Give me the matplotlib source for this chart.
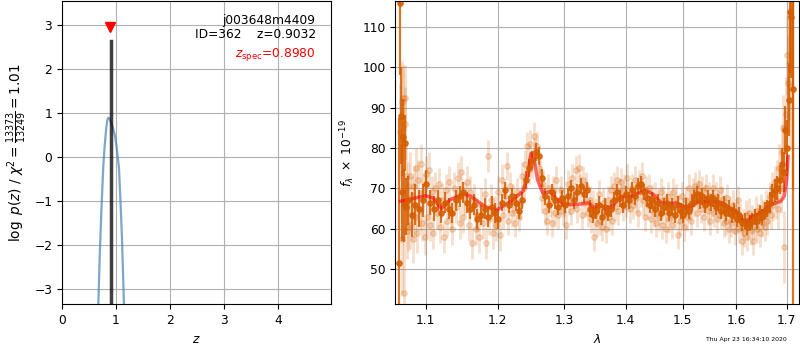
import matplotlib.pyplot as plt
from matplotlib.ticker import FixedLocator, NullLocator, FormatStrFormatter

plt.rcParams['font.size'] = 8.8
plt.rcParams['axes.linewidth'] = 0.8

# redshift probability, log p(z) on the coarse grid
pz_z = [0.64, 0.673, 0.70, 0.73, 0.765, 0.79, 0.815, 0.84, 0.86, 0.88, 0.91,
        0.94, 0.98, 1.01, 1.035, 1.056, 1.08, 1.11, 1.13, 1.148, 1.17]
pz_log = [-4.5, -3.34, -2.2, -1.2, -0.2, 0.25, 0.6, 0.85, 0.9, 0.87, 0.78,
          0.68, 0.5, 0.25, -0.02, -0.25, -0.9, -1.8, -2.6, -3.34, -4.3]

z_best = 0.9032
z_best_logp = 2.65
z_spec = 0.8980
z_spec_mark = 2.95

# binned spectrum
bin_wave = [1.0655, 1.0671, 1.0682, 1.0695, 1.0707, 1.0718, 1.0733, 1.0745,
            1.0765, 1.0815, 1.0865, 1.0915, 1.0965, 1.101, 1.106, 1.111, 1.116, 1.121,
            1.126, 1.131, 1.136, 1.141, 1.146, 1.151, 1.156, 1.161, 1.166, 1.171,
            1.176, 1.181, 1.186, 1.191, 1.196, 1.201, 1.206, 1.211, 1.216, 1.221,
            1.226, 1.231, 1.236, 1.241, 1.246, 1.251, 1.256, 1.261, 1.266, 1.271,
            1.276, 1.281, 1.286, 1.291, 1.296, 1.301, 1.306, 1.311, 1.316, 1.321,
            1.326, 1.331, 1.336, 1.341, 1.346, 1.351, 1.356, 1.361, 1.366, 1.371,
            1.376, 1.381, 1.386, 1.391, 1.396, 1.401, 1.406, 1.411, 1.416, 1.421,
            1.426, 1.431, 1.436, 1.441, 1.446, 1.451, 1.456, 1.461, 1.466, 1.471,
            1.476, 1.481, 1.486, 1.491, 1.496, 1.501, 1.506, 1.511, 1.516, 1.521,
            1.526, 1.531, 1.536, 1.541, 1.546, 1.551, 1.556, 1.561, 1.566, 1.571,
            1.576, 1.581, 1.586, 1.591, 1.596, 1.601, 1.606, 1.611, 1.616, 1.621,
            1.626, 1.631, 1.636, 1.641, 1.646, 1.651, 1.656, 1.661, 1.666, 1.671,
            1.676, 1.681, 1.686, 1.690, 1.694, 1.697, 1.700, 1.704,
            1.7068, 1.7096, 1.7125, 1.7134]
bin_flux = [51.5, 116.0, 88.0, 69.0, 82.6, 65.8, 81.2, 65.5,
            67.0, 63.5, 66.0, 65.0, 67.0, 71.0, 66.5, 65.0, 67.0, 64.0,
            66.5, 65.0, 64.0, 67.0, 68.0, 69.0, 66.5, 65.0, 66.0, 62.5,
            63.5, 65.0, 63.0, 65.5, 64.0, 62.5, 66.5, 69.5, 66.0, 68.0,
            66.5, 64.5, 67.0, 72.0, 75.0, 77.0, 79.0, 78.0, 72.5, 68.0,
            66.0, 69.0, 67.0, 65.5, 67.5, 66.0, 68.0, 70.0, 67.0, 69.0,
            70.5, 68.5, 69.5, 65.0, 63.5, 64.5, 66.0, 63.0, 65.5, 64.0,
            65.0, 67.0, 69.0, 67.5, 66.0, 68.5, 67.0, 69.5, 68.0, 70.5,
            71.0, 69.0, 67.5, 66.0, 67.0, 65.0, 66.5, 64.0, 65.5, 66.5,
            64.0, 65.5, 63.5, 66.0, 64.5, 63.5, 65.5, 64.5, 66.5, 67.5,
            68.5, 67.0, 68.0, 66.0, 67.5, 66.5, 67.5, 65.5, 66.5, 64.5,
            66.0, 64.0, 65.0, 63.5, 64.5, 62.5, 63.5, 61.5, 62.0, 60.5,
            61.5, 62.0, 63.0, 62.0, 64.0, 63.0, 64.5, 65.0, 66.5, 68.5,
            69.5, 70.0, 72.0, 76.0, 74.0, 84.5, 80.0, 92.0,
            113.6, 112.4, 40.0, 94.6]
bin_err = [36.0, 18.0, 12.0, 12.0, 9.5, 9.0, 7.0, 7.0,
           6.0, 5.5, 5.0, 4.5, 4.0, 3.5, 3.0, 3.0, 2.5, 2.5,
           2.5, 2.5, 2.5, 2.5, 2.5, 2.5, 2.5, 2.5, 2.5, 2.5,
           2.5, 2.5, 2.5, 2.5, 2.5, 2.5, 2.2, 2.2, 2.2, 2.2,
           2.2, 2.2, 2.2, 2.2, 2.2, 2.2, 2.2, 2.2, 2.2, 2.2,
           2.2, 2.0, 2.0, 2.0, 2.0, 2.0, 2.0, 2.0, 2.0, 2.0,
           2.0, 2.0, 2.0, 2.0, 2.0, 2.0, 2.0, 2.0, 2.0, 2.0,
           2.0, 2.0, 2.0, 2.0, 2.0, 2.0, 2.0, 2.0, 2.0, 2.0,
           2.0, 2.0, 2.0, 2.0, 2.0, 2.0, 2.0, 2.0, 2.0, 2.0,
           2.0, 2.0, 2.0, 2.0, 2.0, 2.0, 2.0, 2.0, 2.0, 2.0,
           2.0, 2.0, 2.0, 2.0, 2.0, 2.0, 2.0, 2.0, 2.0, 2.0,
           2.0, 2.0, 2.0, 2.0, 2.0, 2.0, 2.0, 2.0, 2.0, 2.0,
           2.0, 2.0, 2.0, 2.0, 2.0, 2.0, 2.2, 2.2, 2.5, 2.5,
           2.8, 3.0, 3.5, 4.0, 5.0, 6.0, 7.0, 9.0,
           15.0, 15.0, 80.0, 25.0]

# unbinned spectrum
raw_wave = [1.0665, 1.0685, 1.0695, 1.0705, 1.0715, 1.0725, 1.0735, 1.0745, 1.0755, 1.0765,
            1.0775, 1.0790, 1.0800, 1.0815, 1.0830, 1.0845, 1.0860, 1.0875, 1.0890, 1.0905,
            1.0925, 1.0940, 1.0955, 1.0970, 1.0990, 1.1005, 1.1025, 1.1045, 1.1065, 1.1085,
            1.1105, 1.113, 1.115, 1.1175, 1.1195, 1.122, 1.1245, 1.127, 1.129, 1.1315,
            1.134, 1.136, 1.1385, 1.141, 1.1435, 1.146, 1.1485, 1.151, 1.1535, 1.156,
            1.1585, 1.161, 1.1635, 1.166, 1.1685, 1.171, 1.1735, 1.176, 1.1785, 1.181,
            1.1835, 1.1855, 1.188, 1.1905, 1.193, 1.1955, 1.198, 1.2005, 1.203, 1.2055,
            1.208, 1.2105, 1.213, 1.2155, 1.218, 1.2205, 1.223, 1.2255, 1.228, 1.2305,
            1.233, 1.2355, 1.238, 1.2405, 1.243, 1.2455, 1.248, 1.2505, 1.253, 1.2555,
            1.258, 1.2605, 1.263, 1.2655, 1.268, 1.2705, 1.273, 1.2755, 1.278, 1.2805,
            1.283, 1.2855, 1.288, 1.2905, 1.293, 1.2955, 1.298, 1.3005, 1.303, 1.3055,
            1.308, 1.3105, 1.313, 1.3155, 1.318, 1.3205, 1.323, 1.3255, 1.328, 1.3305,
            1.333, 1.3355, 1.338, 1.3405, 1.343, 1.3455, 1.348, 1.3505, 1.353, 1.3555,
            1.358, 1.3605, 1.363, 1.3655, 1.368, 1.3705, 1.373, 1.3755, 1.378, 1.3805,
            1.383, 1.3855, 1.388, 1.3905, 1.393, 1.3955, 1.398, 1.4005, 1.403, 1.4055,
            1.408, 1.4105, 1.413, 1.4155, 1.418, 1.4205, 1.423, 1.4255, 1.428, 1.4305,
            1.433, 1.4355, 1.438, 1.4405, 1.443, 1.4455, 1.448, 1.4505, 1.453, 1.4555,
            1.458, 1.4605, 1.463, 1.4655, 1.468, 1.4705, 1.473, 1.4755, 1.478, 1.4805,
            1.483, 1.4855, 1.488, 1.4905, 1.493, 1.4955, 1.498, 1.5005, 1.503, 1.5055,
            1.508, 1.5105, 1.513, 1.5155, 1.518, 1.5205, 1.523, 1.5255, 1.528, 1.5305,
            1.533, 1.5355, 1.538, 1.5405, 1.543, 1.5455, 1.548, 1.5505, 1.553, 1.5555,
            1.558, 1.5605, 1.563, 1.5655, 1.568, 1.5705, 1.573, 1.5755, 1.578, 1.5805,
            1.583, 1.5855, 1.588, 1.5905, 1.593, 1.5955, 1.598, 1.6005, 1.603, 1.6055,
            1.608, 1.6105, 1.613, 1.6155, 1.618, 1.6205, 1.623, 1.6255, 1.628, 1.6305,
            1.633, 1.6355, 1.638, 1.6405, 1.643, 1.6455, 1.648, 1.6505, 1.653, 1.6555,
            1.658, 1.6605, 1.663, 1.6655, 1.668, 1.6705, 1.673, 1.6755, 1.678, 1.6805,
            1.683, 1.6855, 1.688, 1.6905, 1.693, 1.6955, 1.698, 1.700, 1.7025, 1.705,
            1.7075]
raw_flux = [84.0, 91.5, 57.5, 92.5, 44.0, 86.0, 92.5, 73.0, 59.5, 70.5,
            60.5, 73.0, 61.0, 68.0, 57.5, 70.5, 63.0, 75.0, 59.0, 72.0,
            64.5, 76.0, 61.5, 69.0, 58.0, 73.5, 63.0, 74.5, 61.0, 69.0,
            59.0, 70.0, 64.0, 71.0, 60.5, 67.0, 58.0, 69.5, 62.0, 71.5,
            64.0, 60.0, 70.0, 65.5, 72.5, 61.5, 74.0, 63.0, 67.5, 71.5,
            61.0, 69.0, 56.5, 67.0, 60.0, 63.5, 58.0, 66.0, 61.5, 68.5,
            56.5, 78.0, 62.5, 67.0, 59.0, 64.0, 61.0, 69.0, 58.5, 72.0,
            63.5, 68.0, 75.5, 62.0, 70.5, 64.0, 67.5, 61.5, 69.0, 63.0,
            66.0, 73.0, 70.0, 76.0, 80.5, 74.5, 81.0, 76.0, 83.0, 79.0,
            80.5, 75.0, 73.5, 67.5, 71.0, 64.5, 62.0, 70.0, 66.5, 61.5,
            69.5, 64.0, 72.0, 63.5, 67.0, 69.5, 64.5, 66.5, 61.0, 71.0,
            67.0, 64.5, 72.5, 68.0, 74.5, 65.0, 75.0, 70.0, 63.5, 72.0,
            66.5, 70.5, 64.0, 67.0, 62.5, 66.0, 58.0, 64.0, 61.5, 68.5,
            62.0, 60.5, 66.5, 64.0, 60.0, 67.0, 63.0, 69.5, 62.0, 70.5,
            65.5, 72.0, 64.5, 69.0, 71.5, 65.5, 70.0, 66.5, 72.5, 68.0,
            65.0, 70.0, 66.0, 72.0, 67.5, 64.0, 71.0, 69.0, 73.0, 67.0,
            63.0, 69.5, 66.0, 70.0, 62.5, 67.5, 64.0, 68.0, 61.5, 66.5,
            63.0, 69.0, 61.0, 67.0, 64.5, 60.0, 68.0, 62.5, 66.0, 61.0,
            69.0, 63.5, 67.5, 58.5, 65.0, 62.0, 68.0, 64.0, 60.5, 67.0,
            63.0, 70.0, 65.5, 62.0, 69.0, 66.5, 70.5, 64.0, 68.5, 71.0,
            65.0, 69.5, 63.0, 67.5, 70.0, 64.5, 68.0, 62.0, 66.5, 70.0,
            64.0, 68.0, 62.5, 66.0, 69.5, 63.5, 67.0, 61.5, 65.0, 62.0,
            67.5, 60.0, 64.5, 61.5, 66.0, 62.5, 59.5, 64.0, 67.0, 60.0,
            63.0, 57.0, 61.5, 59.0, 63.5, 58.0, 61.0, 64.0, 59.5, 62.5,
            57.0, 61.0, 64.5, 60.0, 63.0, 59.0, 65.0, 61.5, 63.5, 60.5,
            66.0, 62.0, 64.5, 68.0, 63.5, 70.0, 66.0, 71.5, 67.0, 72.0,
            65.0, 75.0, 70.0, 79.0, 85.0, 55.5, 88.5, 103.0, 96.0, 101.0,
            95.0]
raw_err = [12.0, 10.0, 14.0, 8.0, 15.0, 9.0, 8.0, 8.0, 7.0, 6.0,
           6.0, 6.0, 6.0, 5.0, 6.0, 5.0, 5.0, 5.0, 5.0, 5.0,
           5.0, 5.0, 4.5, 4.5, 4.5, 4.5, 4.5, 4.5, 4.0, 4.0,
           4.0, 4.0, 4.0, 4.0, 4.0, 4.0, 4.0, 4.0, 4.0, 4.0,
           4.0, 4.0, 4.0, 4.0, 4.0, 4.0, 4.0, 4.0, 4.0, 4.0,
           4.0, 4.0, 4.0, 4.0, 4.0, 4.0, 4.0, 4.0, 4.0, 4.0,
           4.0, 4.0, 4.0, 4.0, 4.0, 4.0, 4.0, 4.0, 4.0, 4.0,
           3.5, 3.5, 3.5, 3.5, 3.5, 3.5, 3.5, 3.5, 3.5, 3.5,
           3.5, 3.5, 3.5, 3.5, 3.5, 3.5, 3.5, 3.5, 3.5, 3.5,
           3.5, 3.5, 3.5, 3.5, 3.5, 3.5, 3.5, 3.5, 3.5, 3.5,
           3.5, 3.5, 3.5, 3.5, 3.5, 3.5, 3.5, 3.5, 3.5, 3.5,
           3.5, 3.5, 3.5, 3.5, 3.5, 3.5, 3.5, 3.5, 3.5, 3.5,
           3.5, 3.5, 3.5, 3.5, 3.5, 3.5, 3.5, 3.5, 3.5, 3.5,
           3.5, 3.5, 3.5, 3.5, 3.5, 3.5, 3.5, 3.5, 3.5, 3.5,
           3.5, 3.5, 3.5, 3.5, 3.5, 3.5, 3.5, 3.5, 3.5, 3.5,
           3.5, 3.5, 3.5, 3.5, 3.5, 3.5, 3.5, 3.5, 3.5, 3.5,
           3.5, 3.5, 3.5, 3.5, 3.5, 3.5, 3.5, 3.5, 3.5, 3.5,
           3.5, 3.5, 3.5, 3.5, 3.5, 3.5, 3.5, 3.5, 3.5, 3.5,
           3.5, 3.5, 3.5, 3.5, 3.5, 3.5, 3.5, 3.5, 3.5, 3.5,
           3.5, 3.5, 3.5, 3.5, 3.5, 3.5, 3.5, 3.5, 3.5, 3.5,
           3.5, 3.5, 3.5, 3.5, 3.5, 3.5, 3.5, 3.5, 3.5, 3.5,
           3.5, 3.5, 3.5, 3.5, 3.5, 3.5, 3.5, 3.5, 3.5, 3.5,
           3.5, 3.5, 3.5, 3.5, 3.5, 3.5, 3.5, 3.5, 3.5, 3.5,
           3.5, 3.5, 3.5, 3.5, 3.5, 3.5, 3.5, 3.5, 3.5, 3.5,
           3.5, 3.5, 3.5, 3.5, 3.5, 3.5, 3.5, 3.5, 3.5, 3.5,
           3.5, 3.5, 3.5, 3.5, 3.5, 4.0, 4.0, 4.0, 4.5, 5.0,
           5.0, 6.0, 6.0, 7.0, 8.0, 9.0, 9.0, 10.0, 12.0, 14.0,
           15.0]

# best-fit template
model_wave = [1.067, 1.100, 1.110, 1.121, 1.133, 1.152, 1.162, 1.181, 1.199, 1.219,
              1.237, 1.244, 1.249, 1.253, 1.259, 1.267, 1.274, 1.280, 1.287, 1.300,
              1.321, 1.338, 1.350, 1.358, 1.366, 1.377, 1.393, 1.410, 1.433, 1.445,
              1.462, 1.474, 1.488, 1.509, 1.528, 1.554, 1.573, 1.589, 1.598, 1.611,
              1.621, 1.630, 1.643, 1.656, 1.669, 1.688, 1.695, 1.700, 1.703]
model_flux = [66.8, 68.2, 67.6, 65.0, 67.2, 68.6, 68.0, 65.5, 64.7, 66.8,
              69.3, 73.0, 78.6, 77.9, 72.1, 68.8, 69.0, 69.3, 67.5, 66.0,
              66.0, 66.4, 65.1, 66.0, 64.8, 65.5, 68.0, 68.0, 69.5, 68.8,
              66.4, 66.2, 66.4, 65.1, 66.6, 66.8, 66.4, 64.9, 64.4, 62.3,
              61.7, 63.1, 63.5, 64.7, 66.0, 66.8, 68.0, 72.1, 77.9]

wave_ticks = [1.1, 1.2, 1.3, 1.4, 1.5, 1.6, 1.7]

spec_color = '#d55e00'

fig = plt.figure(figsize=(8, 3.5), dpi=100)
ax1 = fig.add_axes([0.0775, 0.1306, 0.336, 0.8666])
ax2 = fig.add_axes([0.494, 0.1306, 0.5046, 0.8666])

# --- p(z) panel ---
ax1.plot(pz_z, pz_log, color='steelblue', alpha=0.7, lw=1.6)
ax1.plot([z_best, z_best], [-5, z_best_logp], color='k', alpha=0.75, lw=2.5)
ax1.plot(z_spec, z_spec_mark, marker='v', color='r', ms=7, linestyle='none')

ax1.text(0.944, 0.937, 'j003648m4409', ha='right', va='center',
         transform=ax1.transAxes)
ax1.text(0.944, 0.891, 'ID=362    z={0:.4f}'.format(z_best), ha='right',
         va='center', transform=ax1.transAxes)
ax1.text(0.944, 0.825, r'$z_\mathrm{spec}$' + '={0:.4f}'.format(z_spec),
         ha='right', va='center', color='r', transform=ax1.transAxes)

ax1.set_xlim(0, 4.98)
ax1.set_ylim(-3.34, 3.55)
ax1.set_xticks([0, 1, 2, 3, 4])
ax1.set_yticks([-3, -2, -1, 0, 1, 2, 3])
ax1.set_xlabel('$z$')
ax1.set_ylabel(r'$\log\ p(z)$ / $\chi^2 = \frac{13373}{13249} = 1.01$',
               fontsize=9.8)
ax1.grid(True)

# --- spectrum panel ---
ax2.errorbar(raw_wave, raw_flux, yerr=raw_err, marker='o', ms=4,
             linestyle='none', color=spec_color, alpha=0.2, elinewidth=2)
ax2.errorbar(bin_wave, bin_flux, yerr=bin_err, marker='o', ms=3.8,
             linestyle='none', color=spec_color, alpha=0.85, elinewidth=1.6)
ax2.plot(model_wave, model_flux, color='r', alpha=0.6, lw=2.5)

ax2.set_xscale('log')
ax2.set_xlim(1.0604, 1.7254)
ax2.set_ylim(41.3, 116.4)
ax2.xaxis.set_major_locator(FixedLocator(wave_ticks))
ax2.xaxis.set_major_formatter(FormatStrFormatter('%.1f'))
ax2.xaxis.set_minor_locator(NullLocator())
ax2.set_yticks([50, 60, 70, 80, 90, 100, 110])
ax2.set_xlabel(r'$\lambda$')
ax2.set_ylabel(r'$f_\lambda\ \times\ 10^{-19}$')
ax2.grid(True)

fig.text(0.984, 0.031, 'Thu Apr 23 16:34:10 2020', ha='right', va='center',
         fontsize=4.4)

plt.savefig('out.png', dpi=100)
